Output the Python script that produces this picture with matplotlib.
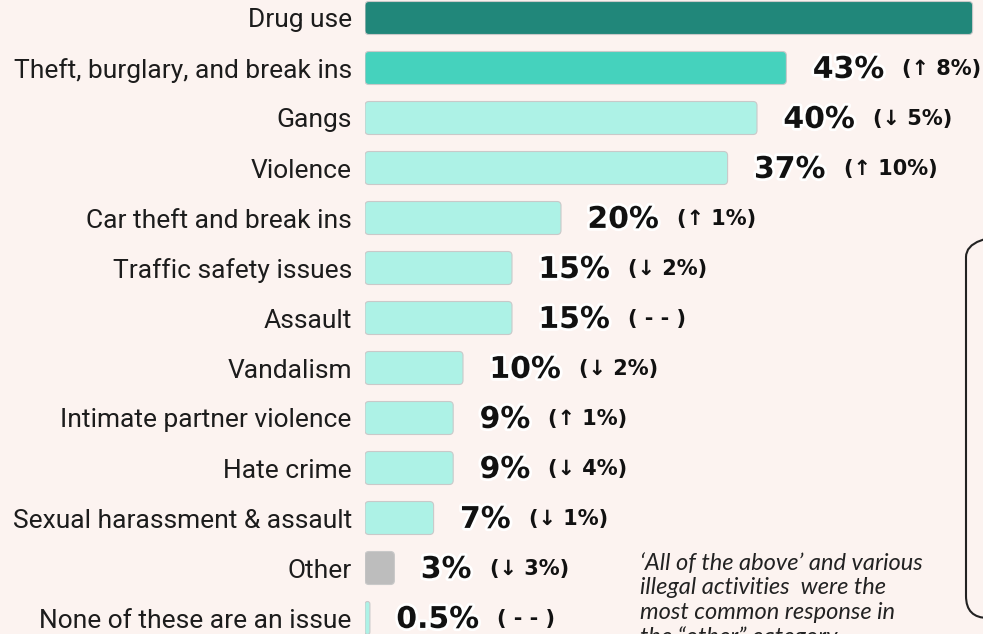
import matplotlib.pyplot as plt
import matplotlib.patheffects as pe
from matplotlib.patches import FancyBboxPatch
from matplotlib.transforms import IdentityTransform

# 社区问题调查结果（百分比）以及与上一年相比的变化
categories = ['Drug use', 'Theft, burglary, and break ins', 'Gangs', 'Violence',
              'Car theft and break ins', 'Traffic safety issues', 'Assault',
              'Vandalism', 'Intimate partner violence', 'Hate crime',
              'Sexual harassment & assault', 'Other', 'None of these are an issue']
values = [62, 43, 40, 37, 20, 15, 15, 10, 9, 9, 7, 3, 0.5]
value_labels = ['', '43%', '40%', '37%', '20%', '15%', '15%', '10%', '9%', '9%',
                '7%', '3%', '0.5%']
changes = ['', '(↑ 8%)', '(↓ 5%)', '(↑ 10%)', '(↑ 1%)', '(↓ 2%)', '( - - )',
           '(↓ 2%)', '(↑ 1%)', '(↓ 4%)', '(↓ 1%)', '(↓ 3%)', '( - - )']
note = ('‘All of the above’ and various\nillegal activities  were the\n'
        'most common response in\nthe “other” category.')

bg = '#fcf3f0'
colors = ['#21877a', '#45d2bd'] + ['#adf2e6'] * 9 + ['#bdbdbd', '#adf2e6']

W, H = 983, 634
fig = plt.figure(figsize=(W / 100, H / 100), dpi=100, facecolor=bg)
x0 = 365            # 条形起点（像素）
px_per_pct = 9.8
ax = fig.add_axes([x0 / W, 0, (W - x0) / W, 1])
ax.set_facecolor(bg)
ax.set_xlim(0, (W - x0) / px_per_pct)
ax.set_ylim((H - 18) / 50, -18 / 50)

ypos = list(range(len(categories)))
bars = ax.barh(ypos, values, height=0.66, color=colors)

# 用圆角矩形替换默认的直角条形
r = 4 / px_per_pct
aspect = (4 / 50) / r
for rect, c in zip(bars, colors):
    x, y, w, h = rect.get_x(), rect.get_y(), rect.get_width(), rect.get_height()
    rs = min(r, w / 2)
    box = FancyBboxPatch((x, y), w, h, boxstyle=f'round,pad=0,rounding_size={rs}',
                         mutation_aspect=aspect, facecolor=c, edgecolor='#c9c9c9',
                         linewidth=0.8)
    ax.add_patch(box)
    rect.set_visible(False)

ax.set_yticks(ypos)
ax.set_yticklabels(categories, fontsize=19, family='Roboto', color='#1c1c1c')
ax.tick_params(axis='y', length=0, pad=9.5)
ax.tick_params(axis='x', bottom=False, labelbottom=False)
for s in ax.spines.values():
    s.set_visible(False)

stroke = [pe.withStroke(linewidth=4, foreground='white')]
for y, v, lab, ch in zip(ypos, values, value_labels, changes):
    if not lab:
        continue
    t = ax.annotate(lab, xy=(v, y), xytext=(19, -1), textcoords='offset points',
                    va='center', ha='left', fontsize=21.5, fontweight='bold',
                    family='DejaVu Sans', color='#111111', path_effects=stroke)
    ax.annotate(ch, xy=(1, 0.5), xycoords=t, xytext=(13, 0),
                textcoords='offset points', va='center', ha='left',
                fontsize=15, fontweight='bold', family='DejaVu Sans',
                color='#111111')

# 底部的斜体注释，最后一行被画布下边缘截断
fig.text(640 / W, 1 - 553 / H, note, fontsize=17, style='italic', family='Lato',
         color='#222222', va='top', ha='left', linespacing=1.2)

# 右侧说明框（只露出左边缘）
frame = FancyBboxPatch((966, 16), 80, 383, boxstyle='round,pad=0,rounding_size=22',
                       transform=IdentityTransform(), facecolor='none',
                       edgecolor='#222222', linewidth=1.5)
fig.patches.append(frame)

fig.savefig('out.png', dpi=100, facecolor=bg)
